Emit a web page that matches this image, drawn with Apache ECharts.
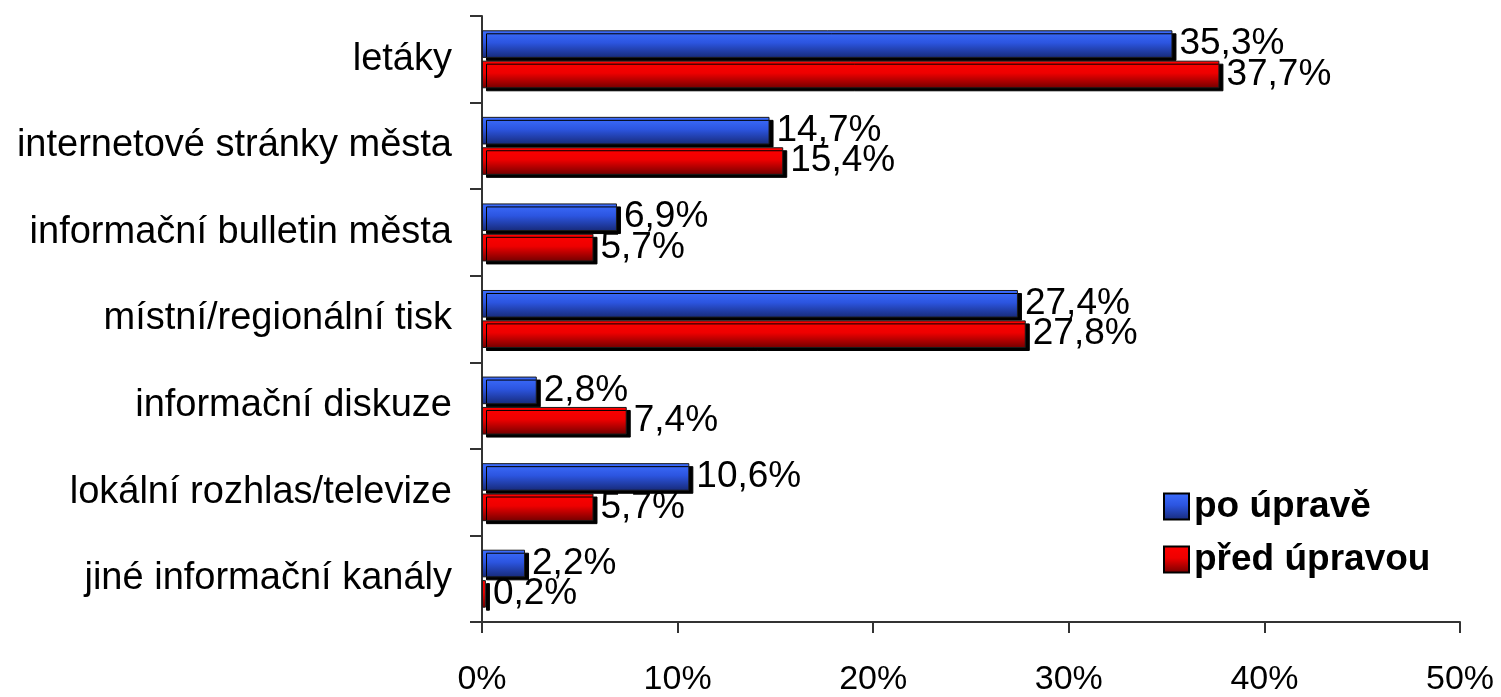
<!DOCTYPE html>
<html>
<head>
<meta charset="utf-8">
<script src="https://cdn.jsdelivr.net/npm/echarts@6/dist/echarts.min.js"></script>
<style>
  html, body { margin: 0; padding: 0; background: #ffffff; }
  #chart { width: 1501px; height: 697px; }
</style>
</head>
<body>
<div id="chart"></div>
<script>
// Information channels, share of respondents (%)
const categories = [
  'letáky',
  'internetové stránky města',
  'informační bulletin města',
  'místní/regionální tisk',
  'informační diskuze',
  'lokální rozhlas/televize',
  'jiné informační kanály'
];
const seriesNames = ['po úpravě', 'před úpravou'];
const poUprave = [35.3, 14.7, 6.9, 27.4, 2.8, 10.6, 2.2];
const predUpravou = [37.7, 15.4, 5.7, 27.8, 7.4, 5.7, 0.2];
const axisTicks = [0, 10, 20, 30, 40, 50];

const FONT = '"Liberation Sans", Arial, sans-serif';

function grad(top, mid, bottom) {
  return new echarts.graphic.LinearGradient(0, 0, 0, 1, [
    { offset: 0, color: top },
    { offset: 0.45, color: mid },
    { offset: 1, color: bottom }
  ]);
}

const blueFill = grad('#3d6eff', '#2c55e0', '#172a78');
const redFill = grad('#ff0000', '#ee0000', '#720000');

function fmtPct(v) {
  return String(v.toFixed(1)).replace('.', ',') + '%';
}

function barSeries(name, data, fill) {
  return {
    name: name,
    type: 'bar',
    data: data,
    barGap: '10%',
    barCategoryGap: '33%',
    itemStyle: {
      color: fill,
      borderColor: '#1a1a1a',
      borderWidth: 1,
      shadowColor: '#000000',
      shadowBlur: 0,
      shadowOffsetX: 4,
      shadowOffsetY: 3
    },
    label: {
      show: true,
      position: 'right',
      distance: 7,
      color: '#000000',
      fontFamily: FONT,
      fontSize: 37,
      formatter: p => fmtPct(p.value)
    },
    emphasis: { disabled: true }
  };
}

const chart = echarts.init(document.getElementById('chart'), null, { renderer: 'canvas' });
chart.setOption({
  animation: false,
  backgroundColor: '#ffffff',
  grid: { left: 482, right: 41, top: 16, bottom: 70, containLabel: false },
  legend: {
    orient: 'vertical',
    left: 1158,
    top: 483,
    icon: 'rect',
    itemWidth: 25,
    itemHeight: 26,
    itemGap: 16,
    data: seriesNames,
    textStyle: { fontFamily: FONT, fontSize: 37, fontWeight: 'bold', color: '#000000', padding: [0, 0, 0, 0] },
    itemStyle: { borderColor: '#000000', borderWidth: 2, shadowBlur: 0, shadowOffsetX: 0, shadowOffsetY: 0, shadowColor: 'transparent' }
  },
  xAxis: {
    type: 'value',
    min: axisTicks[0],
    max: axisTicks[axisTicks.length - 1],
    interval: axisTicks[1] - axisTicks[0],
    splitLine: { show: false },
    axisLine: { show: true, lineStyle: { color: '#333333', width: 2 } },
    axisTick: { show: true, length: 11, lineStyle: { color: '#333333', width: 2 } },
    axisLabel: { fontFamily: FONT, fontSize: 34, color: '#000000', margin: 41, formatter: '{value}%' }
  },
  yAxis: {
    type: 'category',
    inverse: true,
    data: categories,
    axisLine: { show: true, lineStyle: { color: '#333333', width: 2 } },
    axisTick: { show: true, length: 12, lineStyle: { color: '#333333', width: 2 } },
    axisLabel: { fontFamily: FONT, fontSize: 38, color: '#000000', margin: 30 }
  },
  series: [
    barSeries(seriesNames[0], poUprave, blueFill),
    barSeries(seriesNames[1], predUpravou, redFill)
  ]
});
</script>
</body>
</html>
